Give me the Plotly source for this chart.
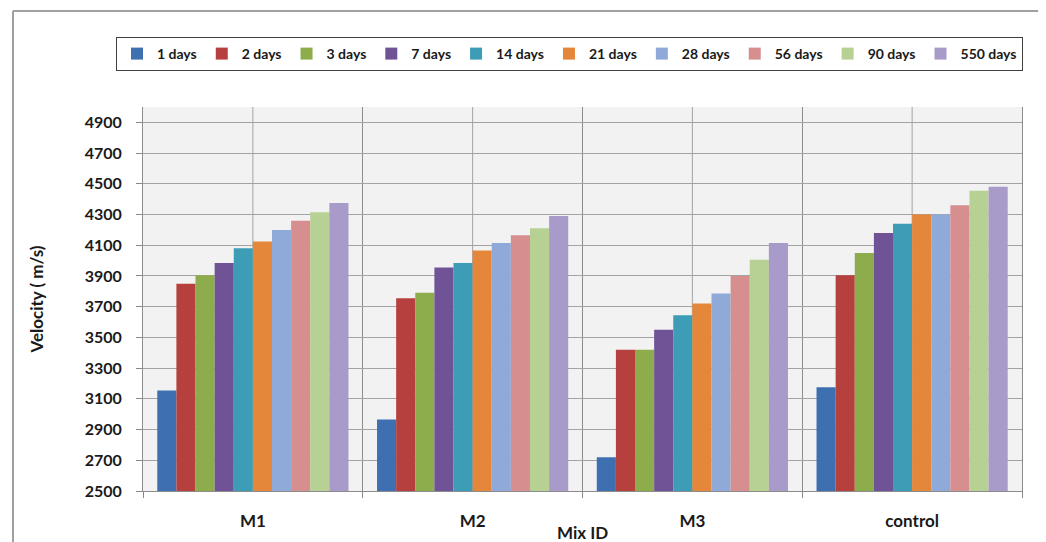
import plotly.graph_objects as go

categories = ["M1", "M2", "M3", "control"]
series_names = ["1 days", "2 days", "3 days", "7 days", "14 days", "21 days",
                "28 days", "56 days", "90 days", "550 days"]
colors = ["#3e6fb0", "#b6403d", "#8dac4c", "#6f5396", "#3d9cb6", "#e5873a",
          "#8faad8", "#d68e8f", "#b7d093", "#a99bc9"]
values = [
    [3155, 2965, 2720, 3175],   # 1 days
    [3850, 3755, 3420, 3905],   # 2 days
    [3905, 3790, 3420, 4050],   # 3 days
    [3985, 3955, 3550, 4180],   # 7 days
    [4080, 3985, 3645, 4240],   # 14 days
    [4125, 4065, 3720, 4300],   # 21 days
    [4200, 4115, 3785, 4300],   # 28 days
    [4260, 4165, 3900, 4360],   # 56 days
    [4315, 4210, 4005, 4455],   # 90 days
    [4375, 4290, 4115, 4480],   # 550 days
]
y_ticks = [2500, 2700, 2900, 3100, 3300, 3500, 3700, 3900, 4100, 4300, 4500, 4700, 4900]

FONT = "Lato, sans-serif"
TXT = "#1a1a1a"
GRID = "#a3a3a3"

fig = go.Figure()
for name, col, vals in zip(series_names, colors, values):
    fig.add_trace(go.Bar(name=name, x=categories, y=vals,
                         marker=dict(color=col, line=dict(width=0))))

# page has an 8px body margin: figure coordinates = page - 8
OFF = 8
W, H = 1046 - OFF, 542 - OFF
L, T = 143 - OFF, 107 - OFF
pw, ph = 879, 384
R, B = W - L - pw, H - T - ph

shapes = []
for c in categories:
    shapes.append(dict(type="line", xref="x", yref="paper", x0=c, x1=c, y0=0, y1=1,
                       line=dict(color=GRID, width=1), layer="below"))
# outer frame (left + top)
fx = (13 - OFF - L) / pw
fy = 1 + (T - (11 - OFF)) / ph
shapes.append(dict(type="line", xref="paper", yref="paper", x0=fx, x1=fx, y0=-0.3, y1=fy,
                   line=dict(color="#a0a0a0", width=2)))
shapes.append(dict(type="line", xref="paper", yref="paper", x0=fx, x1=1.2, y0=fy, y1=fy,
                   line=dict(color="#a0a0a0", width=2)))

fig.update_layout(
    width=W, height=H,
    margin=dict(l=L, r=R, t=T, b=B, autoexpand=False),
    paper_bgcolor="white", plot_bgcolor="#f2f2f2",
    barmode="group", bargap=0.13, bargroupgap=0,
    font=dict(family=FONT, color=TXT, size=15),
    shapes=shapes,
    legend=dict(orientation="h", x=(116 - 143) / pw, y=1 + (107 - 37) / ph,
                xanchor="left", yanchor="top",
                bordercolor="#404040", borderwidth=1, bgcolor="white",
                font=dict(family=FONT, size=14, color=TXT, weight="bold"),
                itemwidth=30, tracegroupgap=0, traceorder="normal"),
    xaxis=dict(type="category", tickson="boundaries", ticks="outside", ticklen=6,
               tickcolor="#888888", showgrid=True, gridcolor="#8c8c8c", gridwidth=1,
               showline=True, linecolor="#8c8c8c",
               tickfont=dict(family=FONT, size=17, color=TXT, weight="bold"),
               ticklabelstandoff=15),
    yaxis=dict(range=[2500, 5000], tickvals=y_ticks, ticks="outside", ticklen=6,
               tickcolor="#888888", showgrid=True, gridcolor=GRID, gridwidth=1,
               showline=True, linecolor="#8c8c8c", mirror=True, zeroline=False,
               tickfont=dict(family=FONT, size=16, color=TXT, weight="bold"),
               ticklabelstandoff=11,
               title=dict(text="Velocity ( m/s)", standoff=36,
                          font=dict(family=FONT, size=17, color=TXT, weight="bold"))),
    annotations=[dict(text="Mix ID", xref="paper", yref="paper", x=0.5, y=-(532 - 491) / ph,
                      xanchor="center", yanchor="middle", showarrow=False,
                      font=dict(family=FONT, size=17, color=TXT, weight="bold"))],
)

fig.write_html("out.html")
